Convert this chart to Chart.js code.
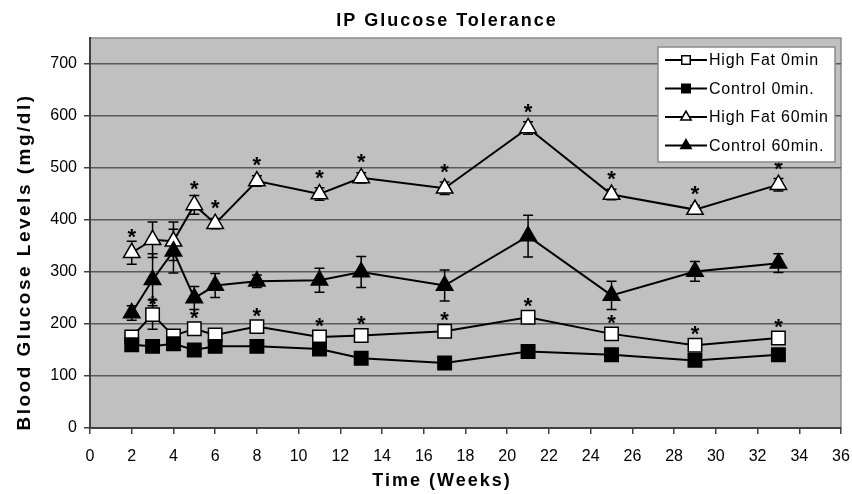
<!DOCTYPE html>
<html>
<head>
<meta charset="utf-8">
<script src="https://cdn.jsdelivr.net/npm/chart.js@4/dist/chart.umd.min.js"></script>
<style>
  html, body { margin: 0; padding: 0; background: #fff; }
  #wrap { width: 852px; height: 494px; }
</style>
</head>
<body>
<div id="wrap"><canvas id="glucoseChart" width="852" height="494"></canvas></div>
<script>
// weeks and mean glucose values (mg/dl)
const weeks = [2, 3, 4, 5, 6, 8, 11, 13, 17, 21, 25, 29, 33];
const hf0 = [175, 218, 177, 191, 179, 195, 175, 178, 186, 213, 181, 159, 173];
const c0 = [160, 157, 162, 150, 157, 157, 152, 134, 125, 147, 141, 130, 141];
const hf60 = [337, 362, 359, 429, 393, 475, 450, 481, 461, 577, 449, 420, 468];
const c60 = [221, 285, 340, 250, 274, 282, 284, 300, 274, 369, 255, 301, 317];

// error bar half widths
const hf0Err = [8, 28, 8, 10, 8, 10, 8, 8, 10, 10, 8, 8, 8];
const c0Err = [6, 6, 8, 6, 6, 6, 6, 6, 6, 6, 6, 6, 6];
const hf60Err = [22, 34, 37, 18, 10, 10, 12, 10, 12, 12, 10, 8, 12];
const c60Err = [14, 50, 42, 22, 23, 12, 23, 30, 30, 40, 27, 19, 18];

// weeks marked with * (significant)
const starHf0 = [3, 5, 8, 11, 13, 17, 21, 25, 29, 33];
const starHf60 = [2, 5, 6, 8, 11, 13, 17, 21, 25, 29, 33];

const labels = ["High Fat 0min", "Control 0min.", "High Fat 60min", "Control 60min."];
const yTicks = [0, 100, 200, 300, 400, 500, 600, 700];

function pts(vals) {
  return weeks.map((w, i) => ({ x: w, y: vals[i] }));
}

function series(label, vals, err, shape, fill, radius, order, stars, starOff) {
  return {
    label: label,
    data: pts(vals),
    err: err,
    stars: stars,
    starOff: starOff,
    borderColor: "#000",
    borderWidth: 2,
    pointStyle: shape,
    pointRadius: radius,
    pointBackgroundColor: fill,
    pointBorderColor: "#000",
    pointBorderWidth: 1.5,
    tension: 0,
    order: order,
  };
}

const plotBack = {
  id: "plotBack",
  beforeDraw(chart) {
    const a = chart.chartArea;
    const ctx = chart.ctx;
    ctx.save();
    ctx.fillStyle = "#c0c0c0";
    ctx.fillRect(a.left, a.top, a.right - a.left, a.bottom - a.top);
    ctx.strokeStyle = "#8a8a8a";
    ctx.lineWidth = 1.5;
    ctx.strokeRect(a.left, a.top, a.right - a.left, a.bottom - a.top);
    ctx.restore();
  },
};

const errorBars = {
  id: "errorBars",
  beforeDatasetsDraw(chart) {
    const ctx = chart.ctx;
    const xs = chart.scales.x;
    const ys = chart.scales.y;
    ctx.save();
    ctx.strokeStyle = "#000";
    ctx.lineWidth = 1.5;
    chart.data.datasets.forEach((ds) => {
      ds.data.forEach((p, i) => {
        const x = xs.getPixelForValue(p.x);
        const top = ys.getPixelForValue(p.y + ds.err[i]);
        const bot = ys.getPixelForValue(p.y - ds.err[i]);
        ctx.beginPath();
        ctx.moveTo(x, top);
        ctx.lineTo(x, bot);
        ctx.moveTo(x - 5, top);
        ctx.lineTo(x + 5, top);
        ctx.moveTo(x - 5, bot);
        ctx.lineTo(x + 5, bot);
        ctx.stroke();
      });
    });
    ctx.restore();
  },
};

const extras = {
  id: "extras",
  afterDraw(chart) {
    const ctx = chart.ctx;
    const a = chart.chartArea;
    const xs = chart.scales.x;
    const ys = chart.scales.y;
    ctx.save();

    // significance stars
    ctx.fillStyle = "#000";
    ctx.font = "bold 22px 'Liberation Sans', Arial, sans-serif";
    ctx.textAlign = "center";
    ctx.textBaseline = "alphabetic";
    chart.data.datasets.forEach((ds) => {
      if (!ds.stars) return;
      ds.data.forEach((p) => {
        if (ds.stars.indexOf(p.x) < 0) return;
        const x = xs.getPixelForValue(p.x);
        const y = ys.getPixelForValue(p.y) - ds.starOff;
        ctx.fillText("*", x, y + 12);
      });
    });

    // titles
    ctx.letterSpacing = "2px";
    ctx.font = "bold 18px 'Liberation Sans', Arial, sans-serif";
    ctx.textBaseline = "middle";
    ctx.fillText("IP Glucose Tolerance", 447, 21);
    ctx.fillText("Time (Weeks)", 442, 481);
    ctx.save();
    ctx.translate(25, 262);
    ctx.rotate(-Math.PI / 2);
    ctx.font = "bold 19px 'Liberation Sans', Arial, sans-serif";
    ctx.letterSpacing = "2.5px";
    ctx.fillText("Blood Glucose Levels (mg/dl)", 0, 0);
    ctx.restore();

    // legend box
    const lx = a.right - 183, ly = a.top + 9, lw = 177, lh = 115;
    ctx.fillStyle = "#fff";
    ctx.fillRect(lx, ly, lw, lh);
    ctx.strokeStyle = "#8a8a8a";
    ctx.lineWidth = 1.5;
    ctx.strokeRect(lx, ly, lw, lh);
    ctx.font = "16px 'Liberation Sans', Arial, sans-serif";
    ctx.letterSpacing = "0.8px";
    ctx.textAlign = "left";
    ctx.textBaseline = "middle";
    chart.data.datasets.forEach((ds, i) => {
      const y = ly + 13 + i * 28.5;
      ctx.strokeStyle = "#000";
      ctx.lineWidth = 2;
      ctx.beginPath();
      ctx.moveTo(lx + 7, y);
      ctx.lineTo(lx + 49, y);
      ctx.stroke();
      ctx.fillStyle = ds.pointBackgroundColor;
      ctx.lineWidth = 1.5;
      Chart.helpers.drawPoint(ctx, { pointStyle: ds.pointStyle, radius: 6, borderWidth: 1.5 }, lx + 28, y);
      ctx.fillStyle = "#000";
      ctx.fillText(ds.label, lx + 51, y + 1);
    });
    ctx.restore();
  },
};

const config = {
  type: "line",
  data: {
    datasets: [
      series(labels[0], hf0, hf0Err, "rect", "#fff", 9.5, 2, starHf0, 16),
      series(labels[1], c0, c0Err, "rect", "#000", 9.5, 0, null, 0),
      series(labels[2], hf60, hf60Err, "triangle", "#fff", 9.5, 3, starHf60, 21),
      series(labels[3], c60, c60Err, "triangle", "#000", 9.5, 1, null, 0),
    ],
  },
  options: {
    responsive: false,
    animation: false,
    layout: { padding: { top: 38, right: 11, left: 0, bottom: 0 } },
    plugins: {
      legend: { display: false },
      title: { display: false },
      tooltip: { enabled: false },
    },
    scales: {
      x: {
        type: "linear",
        min: 0,
        max: 36,
        ticks: {
          stepSize: 2,
          padding: 13,
          color: "#000",
          font: { family: "'Liberation Sans', Arial, sans-serif", size: 16 },
        },
        grid: { drawOnChartArea: false, drawTicks: true, tickLength: 6, color: "#404040", lineWidth: 1.5 },
        border: { color: "#404040", width: 2 },
        afterFit(scale) {
          scale.height = 66;
          scale.paddingLeft = 0;
          scale.paddingRight = 0;
        },
      },
      y: {
        min: 0,
        max: 750,
        afterBuildTicks(scale) {
          scale.ticks = yTicks.map((v) => ({ value: v }));
        },
        ticks: {
          padding: 7,
          color: "#000",
          font: { family: "'Liberation Sans', Arial, sans-serif", size: 16 },
        },
        grid: { color: "#5a5a5a", lineWidth: 1.5, tickLength: 6, tickColor: "#404040" },
        border: { color: "#404040", width: 2 },
        afterFit(scale) {
          scale.width = 90;
          scale.paddingTop = 0;
          scale.paddingBottom = 0;
        },
      },
    },
  },
  plugins: [plotBack, errorBars, extras],
};

const glucoseChart = new Chart(document.getElementById("glucoseChart"), config);
</script>
</body>
</html>
